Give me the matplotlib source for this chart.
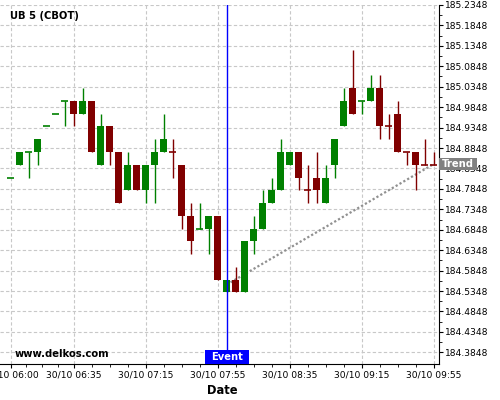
import numpy as np
import matplotlib
matplotlib.use("Agg")
import matplotlib.pyplot as plt
from matplotlib.patches import Rectangle

# 5 minute candles, UB 5 (CBOT), 30/10 06:00 .. 09:55
opens = [184.8125, 184.84375, 184.875, 184.875, 184.9375, 184.96875, 185.0, 185.0,
         184.96875, 185.0, 184.84375, 184.9375, 184.875, 184.78125, 184.84375, 184.78125,
         184.84375, 184.875, 184.875, 184.84375, 184.71875, 184.6875, 184.6875, 184.71875,
         184.53125, 184.5625, 184.53125, 184.65625, 184.6875, 184.75, 184.78125, 184.84375,
         184.875, 184.78125, 184.8125, 184.75, 184.84375, 184.9375, 185.03125, 185.0,
         185.0, 185.03125, 184.9375, 184.96875, 184.875, 184.875, 184.84375, 184.84375]
highs = [184.8125, 184.875, 184.875, 184.90625, 184.9375, 184.96875, 185.0, 185.0,
         185.03125, 185.0, 184.96875, 184.9375, 184.875, 184.875, 184.84375, 184.84375,
         184.90625, 184.96875, 184.90625, 184.84375, 184.75, 184.75, 184.71875, 184.71875,
         184.5625, 184.59375, 184.65625, 184.71875, 184.78125, 184.8125, 184.90625, 184.875,
         184.875, 184.84375, 184.875, 184.84375, 184.90625, 185.03125, 185.125, 185.0,
         185.0625, 185.0625, 184.96875, 185.0, 184.875, 184.875, 184.90625, 184.875]
lows = [184.8125, 184.84375, 184.8125, 184.84375, 184.9375, 184.96875, 184.9375, 184.9375,
        184.96875, 184.875, 184.84375, 184.84375, 184.75, 184.78125, 184.78125, 184.75,
        184.75, 184.875, 184.8125, 184.6875, 184.625, 184.6875, 184.625, 184.5625,
        184.53125, 184.53125, 184.53125, 184.625, 184.6875, 184.75, 184.78125, 184.84375,
        184.78125, 184.75, 184.75, 184.75, 184.8125, 184.9375, 184.96875, 184.96875,
        185.0, 184.90625, 184.90625, 184.875, 184.84375, 184.78125, 184.84375, 184.84375]
closes = [184.8125, 184.875, 184.875, 184.90625, 184.9375, 184.96875, 185.0, 184.96875,
          185.0, 184.875, 184.9375, 184.875, 184.75, 184.84375, 184.78125, 184.84375,
          184.875, 184.90625, 184.875, 184.71875, 184.65625, 184.6875, 184.71875, 184.5625,
          184.5625, 184.53125, 184.65625, 184.6875, 184.75, 184.78125, 184.875, 184.875,
          184.8125, 184.78125, 184.78125, 184.8125, 184.90625, 185.0, 184.96875, 185.0,
          185.03125, 184.9375, 184.9375, 184.875, 184.875, 184.84375, 184.84375, 184.84375]
direction = "uuuuuuudud" "udduduuudd" "duududuuuu" "uuddduuudu" "uddddddd"

x_tick_pos = [0, 7, 15, 23, 31, 39, 47]
x_tick_labels = ["30/10 06:00", "30/10 06:35", "30/10 07:15", "30/10 07:55",
                 "30/10 08:35", "30/10 09:15", "30/10 09:55"]
y_tick_labels = ["184.3848", "184.4348", "184.4848", "184.5348", "184.5848", "184.6348",
                 "184.6848", "184.7348", "184.7848", "184.8348", "184.8848", "184.9348",
                 "184.9848", "185.0348", "185.0848", "185.1348", "185.1848", "185.2348"]
event_idx = 24
trend_x = [24, 47]
trend_y = [184.5505, 184.8456]

green = "#008000"
red = "#800000"

fig = plt.figure(figsize=(5, 4), dpi=100)
ax = fig.add_axes([0, 36 / 400, 439 / 500, 359.5 / 400])

x = np.arange(len(opens))
o = np.array(opens)
c = np.array(closes)
cols = [green if d == "u" else red for d in direction]

ax.vlines(x, lows, highs, colors=cols, lw=1, zorder=3)
body_lo = np.minimum(o, c)
body_h = np.abs(c - o)
ax.bar(x, body_h, bottom=body_lo, width=0.76, color=cols, zorder=4, linewidth=0)
doji = body_h == 0
ax.hlines(o[doji], x[doji] - 0.38, x[doji] + 0.38,
          colors=[cols[i] for i in x[doji]], lw=1.2, zorder=4)

# trend line
ax.plot(trend_x, trend_y, color="#909090", lw=1.6, ls=(0, (1, 1)), zorder=2)

# event marker
ax.axvline(event_idx, color="#0000ff", lw=1, zorder=5)
ax.add_patch(Rectangle((event_idx - 2.46, 0), 4.92, 14 / 359.5,
                       transform=ax.get_xaxis_transform(), facecolor="#0000ff",
                       edgecolor="none", clip_on=False, zorder=10))
ax.text(event_idx, 7 / 359.5, "Event", transform=ax.get_xaxis_transform(),
        ha="center", va="center", color="white", fontsize=7.2, weight="bold", zorder=11)

# trend label on the price axis
ax.add_patch(Rectangle((1.0, trend_y[-1] - 0.0143), 38 / 439, 0.0286,
                       transform=ax.get_yaxis_transform(), facecolor="#808080",
                       edgecolor="none", clip_on=False, zorder=10))
ax.text(1.0 + 19 / 439, trend_y[-1], "Trend", transform=ax.get_yaxis_transform(),
        ha="center", va="center", color="white", fontsize=7.2, weight="bold",
        zorder=11, clip_on=False)

ax.set_xlim(-1.19, 47.59)
ax.set_ylim(184.3562, 185.2360)

ax.set_xticks(x_tick_pos)
ax.set_xticklabels(x_tick_labels)
minor_x = []
for a, b in zip(x_tick_pos[:-1], x_tick_pos[1:]):
    minor_x += [a + (b - a) * k / 4 for k in (1, 2, 3)]
ax.set_xticks(minor_x, minor=True)

y_ticks = [float(s) for s in y_tick_labels]
ax.set_yticks(y_ticks)
ax.set_yticklabels(y_tick_labels)
ax.set_yticks([v + 0.025 for v in y_ticks[:-1]], minor=True)

ax.yaxis.tick_right()
ax.spines["left"].set_visible(False)
ax.spines["top"].set_visible(False)
ax.tick_params(which="major", length=3, width=0.8, labelsize=6.6, pad=1.5)
ax.tick_params(which="minor", length=1.8, width=0.6)
ax.tick_params(axis="y", which="both", right=True, left=False)

ax.grid(True, which="major", color="#c8c8c8", ls=(0, (3, 2)), lw=0.8)
ax.set_axisbelow(True)

fig.text(10.5 / 500, 1 - 19 / 400, "UB 5 (CBOT)", fontsize=7.2, weight="bold",
         va="baseline", ha="left")
fig.text(15 / 500, 1 - 356.7 / 400, "www.delkos.com", fontsize=7.2, weight="bold",
         va="baseline", ha="left")
fig.text(222 / 500, 1 - 394.5 / 400, "Date", fontsize=8.3, weight="bold",
         va="baseline", ha="center")

fig.savefig("out.png", dpi=100)
